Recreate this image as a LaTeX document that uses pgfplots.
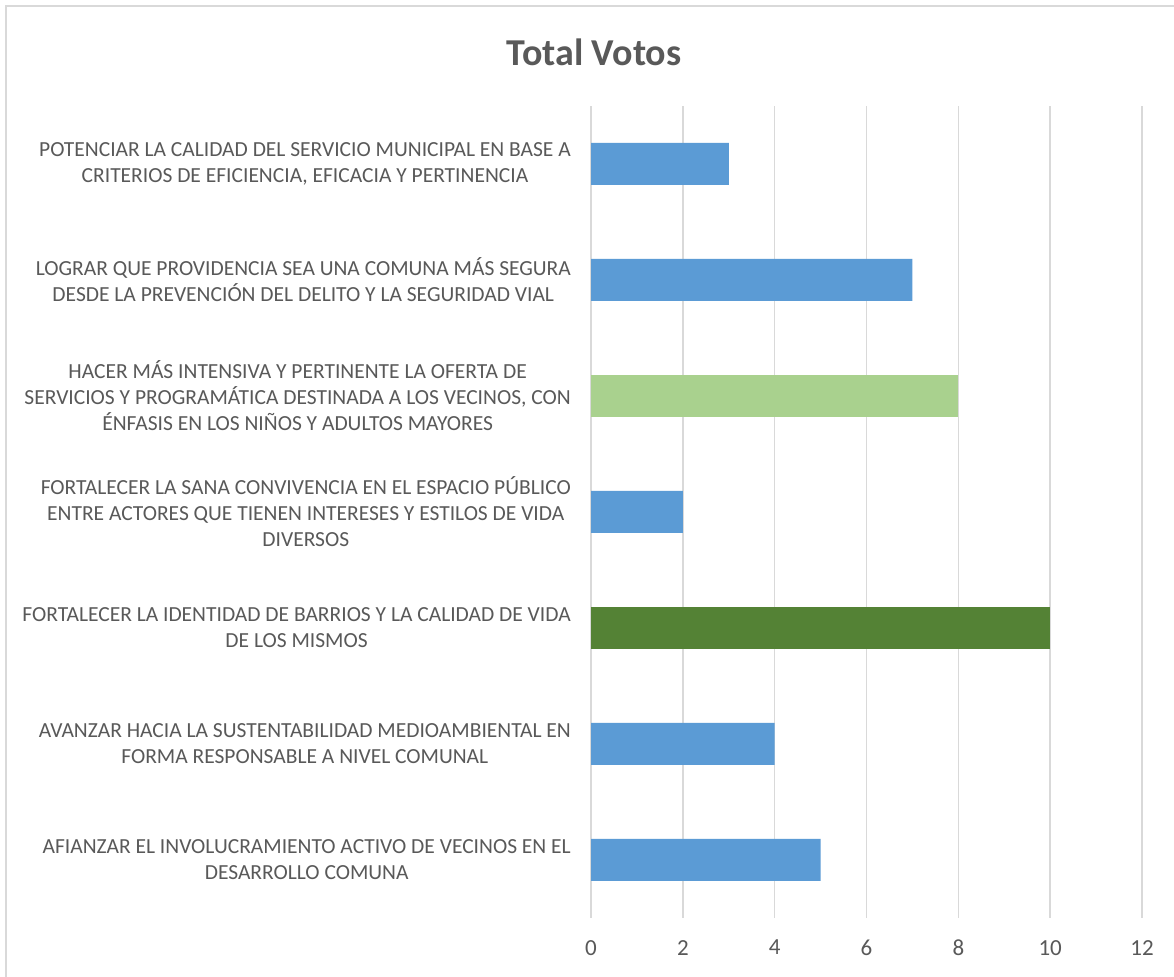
\documentclass[border=0pt]{standalone}
\usepackage{fontspec}
\setmainfont{Carlito}
\usepackage{pgfplots}
\pgfplotsset{compat=1.18}
\definecolor{barblue}{HTML}{5B9BD5}
\definecolor{barlgreen}{HTML}{A9D18E}
\definecolor{bardgreen}{HTML}{548235}
\definecolor{gridgray}{HTML}{D9D9D9}
\definecolor{txtgray}{HTML}{595959}
\begin{document}
\begin{tikzpicture}[x=1bp,y=1bp]
\useasboundingbox (0,0) rectangle (1174,977);
\clip (0,0) rectangle (1174,977);
\fill[white] (0,0) rectangle (1174,977);
\draw[gridgray, line width=2bp] (6,-20) -- (6,971) -- (1200,971);
\node[font=\fontsize{38bp}{42bp}\selectfont\bfseries, text=txtgray] at (594,925) {Total Votos};
\begin{axis}[
  at={(591bp,59bp)}, anchor=south west,
  scale only axis, width=551bp, height=812bp,
  xmin=0, xmax=12, ymin=-0.5, ymax=6.5,
  xbar, bar width=42bp,
  axis line style={draw=none},
  xtick={0,2,...,12}, ytick={0,...,6},
  yticklabels={
    {AFIANZAR EL INVOLUCRAMIENTO ACTIVO DE VECINOS EN EL\\DESARROLLO COMUNA},
    {AVANZAR HACIA LA SUSTENTABILIDAD MEDIOAMBIENTAL EN\\FORMA RESPONSABLE A NIVEL COMUNAL},
    {FORTALECER LA IDENTIDAD DE BARRIOS Y LA CALIDAD DE VIDA\\DE LOS MISMOS},
    {FORTALECER LA SANA CONVIVENCIA EN EL ESPACIO PÚBLICO\\ENTRE ACTORES QUE TIENEN INTERESES Y ESTILOS DE VIDA\\DIVERSOS},
    {HACER MÁS INTENSIVA Y PERTINENTE LA OFERTA DE\\SERVICIOS Y PROGRAMÁTICA DESTINADA A LOS VECINOS, CON\\ÉNFASIS EN LOS NIÑOS Y ADULTOS MAYORES},
    {LOGRAR QUE PROVIDENCIA SEA UNA COMUNA MÁS SEGURA\\DESDE LA PREVENCIÓN DEL DELITO Y LA SEGURIDAD VIAL},
    {POTENCIAR LA CALIDAD DEL SERVICIO MUNICIPAL EN BASE A\\CRITERIOS DE EFICIENCIA, EFICACIA Y PERTINENCIA}
  },
  major tick length=0pt,
  xmajorgrids,
  grid style={draw=gridgray, line width=1.6bp},
  /pgf/number format/assume math mode=true,
  yticklabel style={align=center, inner sep=0pt, xshift=-20bp,
    font=\fontsize{21.5bp}{26bp}\selectfont, text=txtgray},
  xticklabel style={inner sep=0pt, yshift=-22bp,
    font=\fontsize{23bp}{26bp}\selectfont, text=txtgray},
]
\addplot[fill=barblue, draw=none, bar shift=0pt] coordinates {(5,0) (4,1) (2,3) (7,5) (3,6)};
\addplot[fill=barlgreen, draw=none, bar shift=0pt] coordinates {(8,4)};
\addplot[fill=bardgreen, draw=none, bar shift=0pt] coordinates {(10,2)};
\end{axis}
\end{tikzpicture}
\end{document}
